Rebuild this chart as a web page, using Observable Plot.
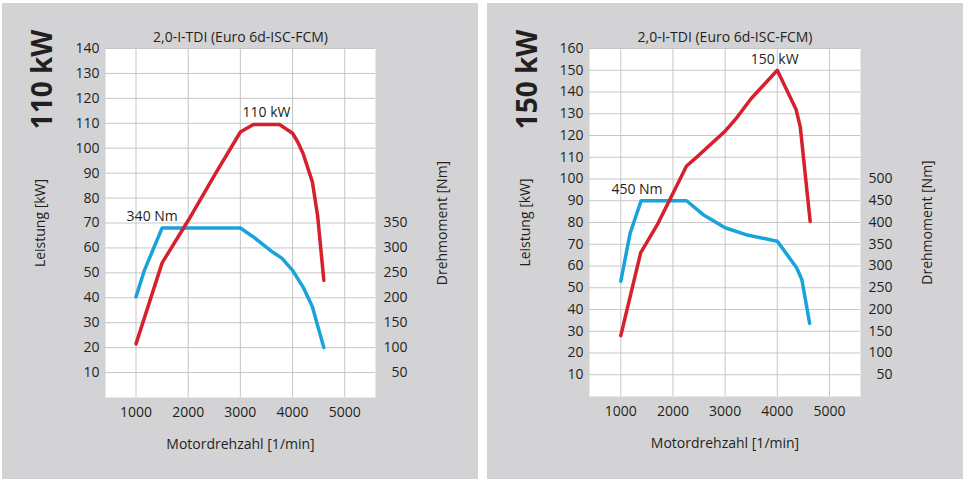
<!DOCTYPE html>
<html><head><meta charset="utf-8">
<script src="https://cdn.jsdelivr.net/npm/d3@7"></script>
<script src="https://cdn.jsdelivr.net/npm/@observablehq/plot@0.6"></script>
<style>
body{margin:0;background:#fff;font-family:"Open Sans",sans-serif;}
#wrap{position:relative;width:969px;height:485px;overflow:hidden;}
.panel{position:absolute;top:3px;}
.panel svg{display:block;}
</style></head><body>
<div id="wrap"><div class="panel" id="p1" style="left:2px"></div><div class="panel" id="p2" style="left:487px"></div></div>
<script>
// ---- shared texts / ticks ----
const titleText = "2,0-I-TDI (Euro 6d-ISC-FCM)";
const xLabel = "Motordrehzahl [1/min]";
const yLabelLeft = "Leistung [kW]";
const yLabelRight = "Drehmoment [Nm]";
const rpmTicks = [1000, 2000, 3000, 4000, 5000];

// ---- panel 1: 110 kW ----
const engine1 = "110 kW";
const power1Rpm = [1000, 1500, 2000, 2500, 3000, 3250, 3750, 4000, 4100, 4200, 4380, 4480, 4600];
const power1Kw  = [21.5, 54, 71, 89, 106.5, 109.5, 109.5, 106, 102.5, 98, 86.5, 73, 47];
const torque1Rpm = [1000, 1160, 1500, 3000, 3250, 3600, 3800, 4000, 4200, 4380, 4600];
const torque1Nm  = [202, 255, 340, 340, 322, 293, 279, 255, 222, 182, 100];
const kwTicks1 = [10, 20, 30, 40, 50, 60, 70, 80, 90, 100, 110, 120, 130, 140];
const nmTicks1 = [50, 100, 150, 200, 250, 300, 350];
const peakPower1 = {rpm: 3500, kw: 110, text: "110 kW"};
const peakTorque1 = {rpm: 1310, nm: 340, text: "340 Nm"};

// ---- panel 2: 150 kW ----
const engine2 = "150 kW";
const power2Rpm = [1000, 1380, 1700, 2260, 2500, 3000, 3200, 3500, 4000, 4360, 4440, 4630];
const power2Kw  = [28, 66, 79, 106, 111, 122, 127.5, 137, 150, 132, 124, 80.5];
const torque2Rpm = [1000, 1180, 1390, 2260, 2580, 3000, 3400, 4000, 4370, 4470, 4620];
const torque2Nm  = [265, 376, 450, 450, 418, 388, 372, 357, 296, 269, 168];
const kwTicks2 = [10, 20, 30, 40, 50, 60, 70, 80, 90, 100, 110, 120, 130, 140, 150, 160];
const nmTicks2 = [50, 100, 150, 200, 250, 300, 350, 400, 450, 500];
const peakPower2 = {rpm: 3950, kw: 150, text: "150 kW"};
const peakTorque2 = {rpm: 1310, nm: 450, text: "450 Nm"};

const NM_PER_KW = 5; // right axis: 50 Nm per 10 kW gridline
const RED = "#d5202e", BLUE = "#18a3db", GRID = "#c6c6c6", TEXT = "#231f20";

function chart({engine, pRpm, pKw, tRpm, tNm, kwTicks, nmTicks, yMax, xDomain, peakP, peakT, mt, mb, ml, mr}) {
  const power = pRpm.map((r, i) => ({rpm: r, kw: pKw[i]}));
  const torque = tRpm.map((r, i) => ({rpm: r, nm: tNm[i]}));
  const W = 476, H = 476;
  const mid = {textAnchor: "middle", lineAnchor: "middle", fill: TEXT};
  return Plot.plot({
    width: W, height: H,
    marginTop: mt, marginBottom: mb, marginLeft: ml, marginRight: mr,
    style: {background: "#d3d3d5", fontFamily: "'Open Sans', sans-serif", fontSize: "14px", color: TEXT},
    x: {domain: xDomain, label: null},
    y: {domain: [0, yMax], label: null},
    marks: [
      Plot.frame({fill: "white", stroke: "none"}),
      Plot.gridX(rpmTicks, {stroke: GRID, strokeOpacity: 1}),
      Plot.gridY(kwTicks, {stroke: GRID, strokeOpacity: 1}),
      Plot.axisX(rpmTicks, {tickSize: 0, tickPadding: 10, label: null, fontSize: 14, tickFormat: d => String(d)}),
      Plot.axisY(kwTicks, {anchor: "left", tickSize: 0, tickPadding: 6, label: null, fontSize: 14, tickFormat: d => String(d)}),
      Plot.axisY(nmTicks.map(v => v / NM_PER_KW), {anchor: "right", tickSize: 0, tickPadding: 32, textAnchor: "end", label: null, fontSize: 14, tickFormat: d => String(d * NM_PER_KW)}),
      Plot.line(torque, {x: "rpm", y: d => d.nm / NM_PER_KW, stroke: BLUE, strokeWidth: 3.5, strokeLinejoin: "round"}),
      Plot.line(power, {x: "rpm", y: "kw", stroke: RED, strokeWidth: 3.5, strokeLinejoin: "round"}),
      Plot.text([peakP], {x: "rpm", y: "kw", text: "text", dy: -11, fontSize: 14, ...mid}),
      Plot.text([peakT], {x: "rpm", y: d => d.nm / NM_PER_KW, text: "text", dy: -11, fontSize: 14, ...mid}),
      Plot.text([titleText], {frameAnchor: "top", dy: -11, fontSize: 14, ...mid}),
      Plot.text([engine], {frameAnchor: "top-left", dx: 41 - ml, dy: 31, rotate: -90, fontSize: 28, fontWeight: "bold", ...mid}),
      Plot.text([yLabelLeft], {frameAnchor: "left", dx: 38 - ml, rotate: -90, fontSize: 14, ...mid}),
      Plot.text([yLabelRight], {frameAnchor: "right", dx: 440 - (W - mr), rotate: -90, fontSize: 14, ...mid}),
      Plot.text([xLabel], {frameAnchor: "bottom", dy: 47, fontSize: 14, ...mid})
    ]
  });
}

document.getElementById("p1").append(chart({
  engine: engine1, pRpm: power1Rpm, pKw: power1Kw, tRpm: torque1Rpm, tNm: torque1Nm,
  kwTicks: kwTicks1, nmTicks: nmTicks1, yMax: 140, xDomain: [415, 5590],
  peakP: peakPower1, peakT: peakTorque1, mt: 45, mb: 82, ml: 103, mr: 103
}));
document.getElementById("p2").append(chart({
  engine: engine2, pRpm: power2Rpm, pKw: power2Kw, tRpm: torque2Rpm, tNm: torque2Nm,
  kwTicks: kwTicks2, nmTicks: nmTicks2, yMax: 160, xDomain: [400, 5595],
  peakP: peakPower2, peakT: peakTorque2, mt: 45, mb: 83, ml: 102, mr: 103
}));
</script>
</body></html>
